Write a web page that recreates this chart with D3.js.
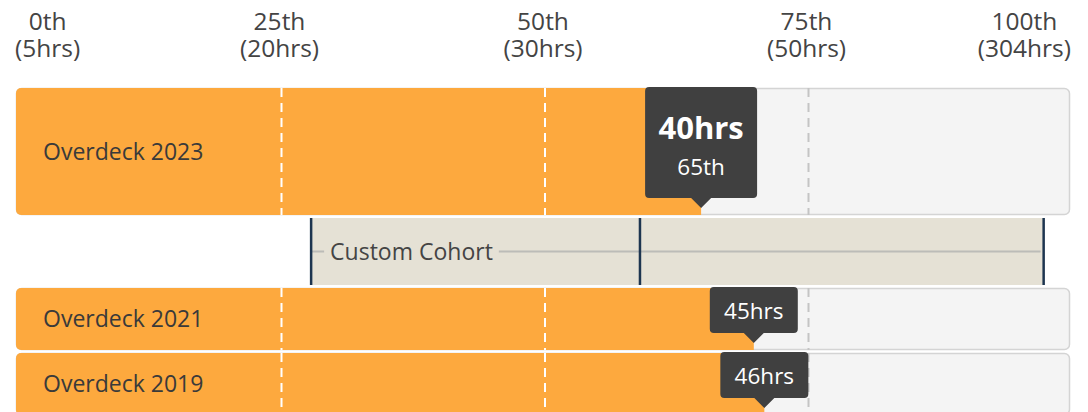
<!DOCTYPE html>
<html>
<head>
<meta charset="utf-8">
<script src="https://cdn.jsdelivr.net/npm/d3@7"></script>
<style>
  body { margin: 0; background: #fff; }
  svg { display: block; font-family: "Open Sans", sans-serif; }
</style>
</head>
<body>
<svg id="chart" width="1088" height="412"></svg>
<script>
'use strict';

// percentile axis
const tickPercentiles = [0, 25, 50, 75, 100];
const tickHours = [5, 20, 30, 50, 304];

// rows
const rowNames = ["Overdeck 2023", "Custom Cohort", "Overdeck 2021", "Overdeck 2019"];
const rowPercentiles = [65, null, 70, 71];
const rowHours = [40, null, 45, 46];
const rowFocus = [true, false, false, false];

// custom cohort span: low / median / high percentile
const customSpan = [28, 59.2, 97.5];

const COLORS = { orange: '#fda93e', track: '#f4f4f4', trackStroke: '#d4d4d4',
    tip: '#404040', custom: '#e5e1d5', navy: '#1d3550', text: '#444' };

const svg = d3.select('#chart');
const x = d3.scaleLinear().domain([0, 100]).range([16, 1070]);

// row layout (top, height)
const rowLayout = [[88, 127], [218, 67], [288, 62], [353, 62]];

// axis labels
tickPercentiles.forEach((p, i) => {
    const g = svg.append('g').attr('fill', COLORS.text).attr('font-size', 24.5);
    g.append('text').attr('x', x(p)).attr('y', 30).attr('text-anchor', 'middle').text(p + 'th');
    g.append('text').attr('x', x(p)).attr('y', 57).attr('text-anchor', 'middle').text('(' + tickHours[i] + 'hrs)');
    const bb = g.node().getBBox();
    let dx = 0;
    if (bb.x < x.range()[0] - 1) dx = x.range()[0] - 1 - bb.x;
    if (bb.x + bb.width > x.range()[1] + 1) dx = x.range()[1] + 1 - bb.x - bb.width;
    g.attr('transform', `translate(${dx},0)`);
});

rowNames.forEach((name, i) => {
    const [top, h] = rowLayout[i];
    const g = svg.append('g').attr('transform', `translate(0,${top})`);

    if (rowPercentiles[i] === null) {
        // custom cohort box
        const [lo, mid, hi] = customSpan;
        g.append('rect').attr('x', x(lo)).attr('y', 0)
            .attr('width', x(hi) - x(lo)).attr('height', h).attr('fill', COLORS.custom);
        g.append('line').attr('x1', x(lo)).attr('x2', x(hi) - 3)
            .attr('y1', h / 2).attr('y2', h / 2)
            .attr('stroke', '#bcbcb8').attr('stroke-width', 2);
        const label = g.append('text').attr('x', x(lo) + 19).attr('y', h / 2 + 8)
            .attr('font-size', 23).attr('fill', COLORS.text).text(name);
        const lb = label.node().getBBox();
        g.insert('rect', 'text').attr('x', lb.x - 6).attr('y', h / 2 - 3)
            .attr('width', lb.width + 12).attr('height', 6).attr('fill', COLORS.custom);
        [lo, mid, hi].forEach((p) => {
            g.append('line').attr('x1', x(p)).attr('x2', x(p)).attr('y1', 0).attr('y2', h)
                .attr('stroke', COLORS.navy).attr('stroke-width', 2.5);
        });
        return;
    }

    const clipId = 'clip' + i;
    g.append('clipPath').attr('id', clipId).append('rect')
        .attr('x', x(0)).attr('y', 0).attr('width', x(100) - x(0)).attr('height', h).attr('rx', 5);

    g.append('rect').attr('x', x(0) + 0.5).attr('y', 0.5)
        .attr('width', x(100) - x(0) - 1).attr('height', h - 1).attr('rx', 5)
        .attr('fill', COLORS.track).attr('stroke', COLORS.trackStroke).attr('stroke-width', 1.5);

    g.append('rect').attr('clip-path', `url(#${clipId})`)
        .attr('x', x(0)).attr('y', 0).attr('width', x(rowPercentiles[i]) - x(0)).attr('height', h)
        .attr('fill', COLORS.orange);

    // quartile guides
    [25, 50, 75].forEach((p) => {
        const gx = x(p) + 2;
        g.append('line').attr('x1', gx).attr('x2', gx).attr('y1', 0).attr('y2', h)
            .attr('stroke', p < rowPercentiles[i] ? '#fff' : '#c4c4c4')
            .attr('stroke-width', 2).attr('stroke-dasharray', '9,6');
    });

    g.append('text').attr('x', 43).attr('y', h / 2 + 8).attr('font-size', 23)
        .attr('fill', '#3a3a3a').text(name);

    // value tooltip
    const vx = x(rowPercentiles[i]);
    const tip = g.append('g');
    if (rowFocus[i]) {
        const w = 112, th = 111, ty = -1;
        tip.append('path').attr('d', `M${vx - w / 2 + 4},${ty} h${w - 8} q4,0 4,4 v${th - 8} q0,4 -4,4 h${-(w / 2 - 14)} l-10,10 l-10,-10 h${-(w / 2 - 14)} q-4,0 -4,-4 v${-(th - 8)} q0,-4 4,-4 z`)
            .attr('fill', COLORS.tip);
        tip.append('text').attr('x', vx).attr('y', ty + 52).attr('text-anchor', 'middle')
            .attr('font-size', 31).attr('font-weight', 'bold').attr('fill', '#fff').text(rowHours[i] + 'hrs');
        tip.append('text').attr('x', vx).attr('y', ty + 88).attr('text-anchor', 'middle')
            .attr('font-size', 22.5).attr('fill', '#fff').text(rowPercentiles[i] + 'th');
    } else {
        const w = 88, th = 46, ty = -1;
        tip.append('path').attr('d', `M${vx - w / 2 + 4},${ty} h${w - 8} q4,0 4,4 v${th - 8} q0,4 -4,4 h${-(w / 2 - 14)} l-10,10 l-10,-10 h${-(w / 2 - 14)} q-4,0 -4,-4 v${-(th - 8)} q0,-4 4,-4 z`)
            .attr('fill', COLORS.tip);
        tip.append('text').attr('x', vx).attr('y', ty + 32).attr('text-anchor', 'middle')
            .attr('font-size', 22.5).attr('fill', '#fff').text(rowHours[i] + 'hrs');
    }
});
</script>
</body>
</html>
